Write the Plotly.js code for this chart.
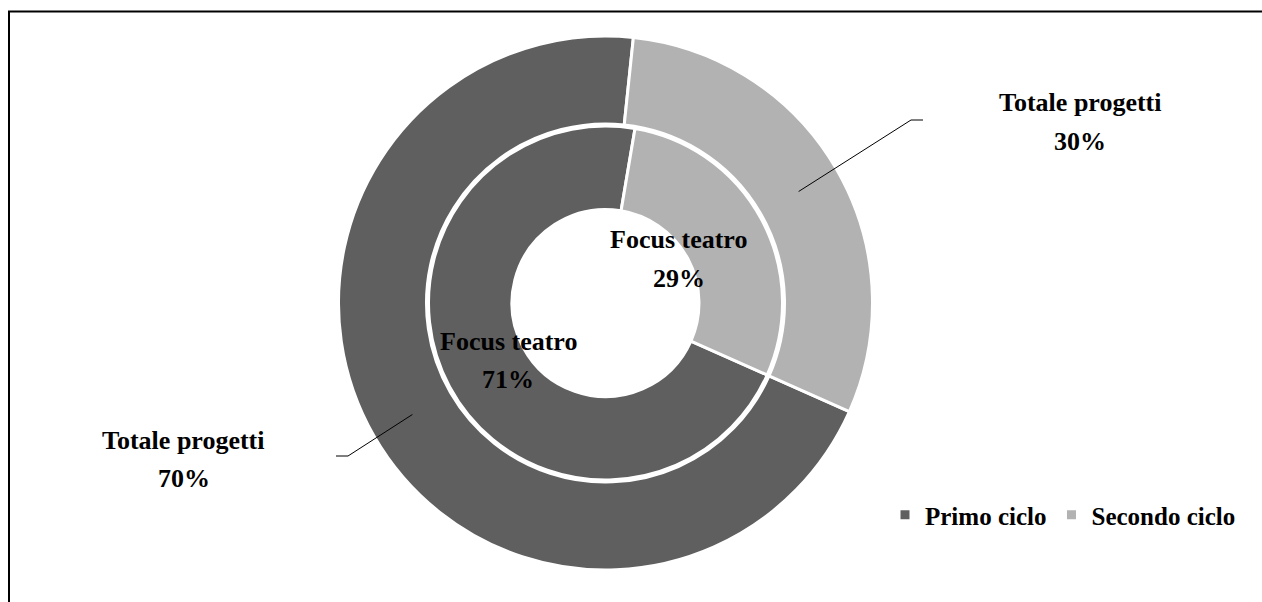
<!DOCTYPE html>
<html>
<head>
<meta charset="utf-8">
<script src="https://cdn.plot.ly/plotly-3.0.1.min.js"></script>
<style>
  html, body { margin: 0; padding: 0; background: #ffffff; }
  #chart { width: 1262px; height: 602px; }
</style>
</head>
<body>
<div id="chart"></div>
<script>
// Series (cycles) and their colours
const cycles = ['Primo ciclo', 'Secondo ciclo'];
const cycleColors = ['#5f5f5f', '#b2b2b2'];

// Rings: outer = all projects, inner = theatre-focused projects
const ringNames = ['Totale progetti', 'Focus teatro'];
const totaleValues = [70, 30];   // %
const focusValues = [71, 29];    // %

// ---- layout geometry (pixels) ----
const W = 1262, H = 602;
const cx = 605.5, cy = 303;          // donut centre
const outerR = 267, outerHoleR = 179;
const innerR = 177, innerHoleR = 93.5;
const startAngle = 114;              // degrees clockwise from 12 o'clock

const px = x => x / W;
const py = y => 1 - y / H;

function domainFor(r) {
  return { x: [px(cx - r), px(cx + r)], y: [py(cy + r), py(cy - r)] };
}

const FONT = 'Liberation Serif, Times New Roman, serif';

const outer = {
  type: 'pie',
  labels: cycles,
  values: totaleValues,
  sort: false,
  direction: 'clockwise',
  rotation: startAngle,
  hole: outerHoleR / outerR,
  domain: domainFor(outerR),
  marker: { colors: cycleColors, line: { color: '#ffffff', width: 3 } },
  textinfo: 'none',
  hoverinfo: 'skip',
  showlegend: true
};

const inner = {
  type: 'pie',
  labels: cycles,
  values: focusValues,
  sort: false,
  direction: 'clockwise',
  rotation: startAngle,
  hole: innerHoleR / innerR,
  domain: domainFor(innerR),
  marker: { colors: cycleColors, line: { color: '#ffffff', width: 3 } },
  textinfo: 'none',
  hoverinfo: 'skip',
  showlegend: true
};

// Mid-angle of slice i of a ring (degrees clockwise from top)
function midAngle(values, i) {
  const total = values.reduce((a, b) => a + b, 0);
  let acc = 0;
  for (let k = 0; k < i; k++) acc += values[k];
  return startAngle + (acc + values[i] / 2) / total * 360;
}
function polar(r, deg) {
  const a = deg * Math.PI / 180;
  return [cx + r * Math.sin(a), cy - r * Math.cos(a)];
}

// Label placement (pixels): centre of the name line; the percentage sits below
const lineGap = 38;
const outerLabelPos = [[183.5, 440], [1080, 103]];
const innerLabelPos = [[508, 341], [678.5, 240]];
// Leader-line elbows and ends for the outer labels
const leaderElbow = [[348, 456], [911, 120]];
const leaderEnd = [[336, 456], [923, 120]];

const annotations = [];
const labelFont = { family: FONT, size: 26, color: '#000000', weight: 700 };
function addLabel(pos, name, value) {
  annotations.push({ xref: 'paper', yref: 'paper', x: px(pos[0]), y: py(pos[1]),
    xanchor: 'center', yanchor: 'middle', showarrow: false, text: name, font: labelFont });
  annotations.push({ xref: 'paper', yref: 'paper', x: px(pos[0]), y: py(pos[1] + lineGap),
    xanchor: 'center', yanchor: 'middle', showarrow: false, text: value + '%', font: labelFont });
}
totaleValues.forEach((v, i) => addLabel(outerLabelPos[i], ringNames[0], v));
focusValues.forEach((v, i) => addLabel(innerLabelPos[i], ringNames[1], v));

const shapes = [];
// Leader lines from the middle of each outer slice
totaleValues.forEach((v, i) => {
  const s = polar((outerR + outerHoleR) / 2, midAngle(totaleValues, i));
  const e = leaderElbow[i], f = leaderEnd[i];
  shapes.push({
    type: 'path', xref: 'paper', yref: 'paper',
    path: `M${px(s[0])},${py(s[1])} L${px(e[0])},${py(e[1])} L${px(f[0])},${py(f[1])}`,
    line: { color: '#000000', width: 1 }
  });
});
// Frame lines along the top and left edges
shapes.push({
  type: 'path', xref: 'paper', yref: 'paper',
  path: `M${px(9)},${py(602)} L${px(9)},${py(11.5)} L${px(1262)},${py(11.5)}`,
  line: { color: '#000000', width: 2 }
});

const layout = {
  width: W, height: H,
  margin: { l: 0, r: 0, t: 0, b: 0 },
  paper_bgcolor: '#ffffff',
  plot_bgcolor: '#ffffff',
  showlegend: true,
  legend: {
    orientation: 'h',
    x: px(885), xanchor: 'left',
    y: py(492), yanchor: 'top',
    font: { family: FONT, size: 25, color: '#000000', weight: 700 },
    bgcolor: 'rgba(0,0,0,0)'
  },
  annotations: annotations,
  shapes: shapes
};

Plotly.newPlot('chart', [outer, inner], layout, { displayModeBar: false, staticPlot: true });
</script>
</body>
</html>
